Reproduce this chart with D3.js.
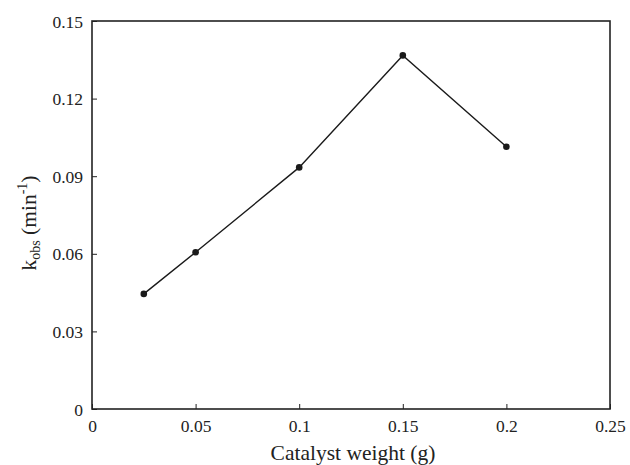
<!DOCTYPE html>
<html>
<head>
<meta charset="utf-8">
<script src="https://cdn.jsdelivr.net/npm/d3@7"></script>
<style>
  body { margin: 0; background: #fff; }
  text { font-family: "Liberation Serif", "Times New Roman", serif; fill: #222; }
</style>
</head>
<body>
<div id="chart"></div>
<script>
// data
const weights = [0.025, 0.05, 0.1, 0.15, 0.2];
const kObs = [0.0445, 0.0606, 0.0934, 0.1367, 0.1014];
const xTicks = [0, 0.05, 0.1, 0.15, 0.2, 0.25];
const yTicks = [0, 0.03, 0.06, 0.09, 0.12, 0.15];

const svgWidth = 630;
const svgHeight = 465;
const margin = { top: 21, right: 20, bottom: 56, left: 92 };
const width = svgWidth - margin.left - margin.right;
const height = svgHeight - margin.top - margin.bottom;

const svg = d3.select("#chart")
  .append("svg")
  .attr("width", svgWidth)
  .attr("height", svgHeight);

const chartGroup = svg.append("g")
  .attr("transform", `translate(${margin.left}, ${margin.top})`);

const x = d3.scaleLinear().domain([0, 0.25]).range([0, width]);
const y = d3.scaleLinear().domain([0, 0.15]).range([height, 0]);

// axes with inward ticks
const bottomAxis = d3.axisBottom(x)
  .tickValues(xTicks)
  .tickSizeInner(-5)
  .tickSizeOuter(0)
  .tickPadding(11)
  .tickFormat(d => d === 0 ? "0" : String(+d.toFixed(2)));
const leftAxis = d3.axisLeft(y)
  .tickValues(yTicks)
  .tickSizeInner(-5)
  .tickSizeOuter(0)
  .tickPadding(9)
  .tickFormat(d => d === 0 ? "0" : d.toFixed(2));

const gx = chartGroup.append("g")
  .attr("transform", `translate(0, ${height})`)
  .call(bottomAxis);
const gy = chartGroup.append("g").call(leftAxis);

[gx, gy].forEach(g => {
  g.select(".domain").remove();
  g.selectAll(".tick line").attr("stroke", "#222");
  g.selectAll(".tick text")
    .style("font-family", "'Liberation Serif', serif")
    .style("font-size", "17.5px")
    .attr("fill", "#222");
});
gy.selectAll(".tick text").attr("dy", "0.35em");

// frame
chartGroup.append("rect")
  .attr("width", width)
  .attr("height", height)
  .attr("fill", "none")
  .attr("stroke", "#222")
  .attr("stroke-width", 1.6);

const pts = weights.map((w, i) => ({ w: w, k: kObs[i] }));

chartGroup.append("path")
  .datum(pts)
  .attr("fill", "none")
  .attr("stroke", "#1a1a1a")
  .attr("stroke-width", 1.4)
  .attr("d", d3.line().x(d => x(d.w)).y(d => y(d.k)));

chartGroup.selectAll("circle")
  .data(pts)
  .enter()
  .append("circle")
  .attr("cx", d => x(d.w))
  .attr("cy", d => y(d.k))
  .attr("r", 3.3)
  .attr("fill", "#1a1a1a");

// axis labels
chartGroup.append("text")
  .attr("x", width / 2 + 2)
  .attr("y", height + 51)
  .attr("text-anchor", "middle")
  .style("font-size", "21.5px")
  .text("Catalyst weight (g)");

const yl = chartGroup.append("text")
  .attr("transform", `translate(${-56}, ${height / 2 + 8}) rotate(-90)`)
  .attr("text-anchor", "middle")
  .style("font-size", "21.5px");
yl.append("tspan").text("k");
yl.append("tspan").attr("dy", 4).style("font-size", "14px").text("obs");
yl.append("tspan").attr("dy", -4).text(" (min");
yl.append("tspan").attr("dy", -9).style("font-size", "14px").text("-1");
yl.append("tspan").attr("dy", 9).text(")");
</script>
</body>
</html>
